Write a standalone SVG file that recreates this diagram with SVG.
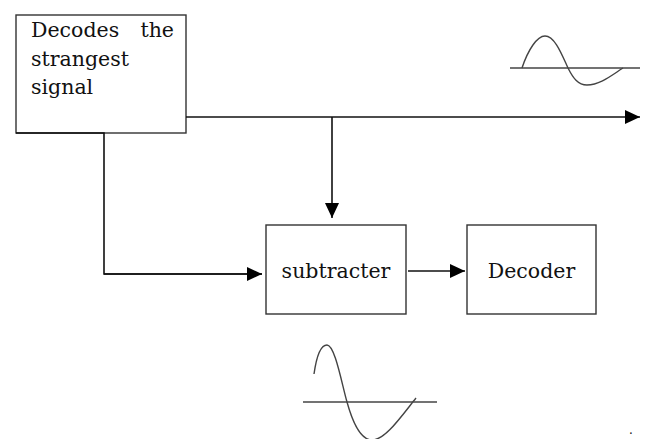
<svg xmlns="http://www.w3.org/2000/svg" width="649" height="439" viewBox="0 0 649 439">
<style>
.box{fill:#fff;stroke:#333;stroke-width:1.4}
.lbl{font-family:"DejaVu Serif","Liberation Serif",serif;font-size:20.5px;fill:#111}
.conn{fill:none;stroke:#111;stroke-width:1.6}
.wave{fill:none;stroke:#444;stroke-width:1.4}
</style>
<defs>
<marker id="arr" viewBox="0 0 15 14" refX="15" refY="7" markerWidth="15" markerHeight="14" markerUnits="userSpaceOnUse" orient="auto">
<path d="M0,0 L15,7 L0,14 z" fill="#000"/>
</marker>
</defs>
<rect width="649" height="439" fill="#fff"/>
<g id="strongest">
<rect class="box" x="16" y="15" width="170" height="118"/>
<text class="lbl" x="31" y="37">Decodes</text>
<text class="lbl" x="174" y="37" text-anchor="end">the</text>
<text class="lbl" x="31" y="66">strangest</text>
<text class="lbl" x="31" y="94">signal</text>
</g>
<g id="subtracter">
<rect class="box" x="266" y="225" width="140" height="89"/>
<text class="lbl" x="336" y="278" text-anchor="middle">subtracter</text>
</g>
<g id="decoder">
<rect class="box" x="467" y="225" width="129" height="89"/>
<text class="lbl" x="531.5" y="278" text-anchor="middle">Decoder</text>
</g>
<g id="connectors">
<path class="conn" d="M186,117 L640,117" marker-end="url(#arr)"/>
<path class="conn" d="M332,117 L332,218" marker-end="url(#arr)"/>
<path class="conn" d="M16,133 L104,133 L104,274 L262,274" stroke-width="2"/>
<path class="conn" d="M104,274 L262,274" marker-end="url(#arr)"/>
<path class="conn" d="M408,271 L465,271" marker-end="url(#arr)"/>
</g>
<g id="waves">
<line class="wave" x1="510" y1="68" x2="640" y2="68"/>
<path class="wave" d="M522,68 C528,50 537,36 545,36 C555,36 562,55 568,68 C573,78 578,85 587,85 C600,85 612,75 623,68"/>
<line class="wave" x1="303" y1="402" x2="437" y2="402"/>
<path class="wave" d="M314,374 C316,360 320,345 327,345 C335,345 342,385 347,402 C352,420 360,440 372,440 C385,440 400,418 416,398"/>
</g>
<text x="629" y="434" style="font-family:'DejaVu Serif',serif;font-size:12px;fill:#111">.</text>
</svg>
